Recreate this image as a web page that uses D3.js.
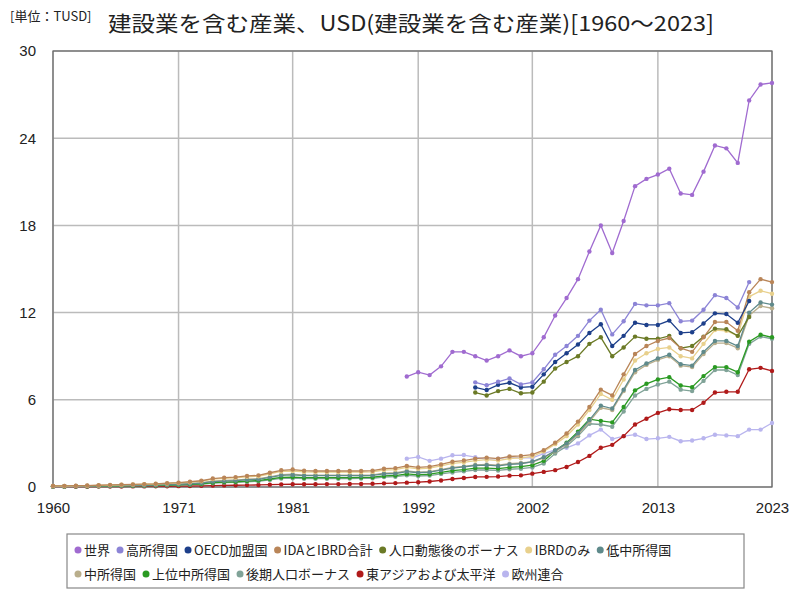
<!DOCTYPE html>
<html><head><meta charset="utf-8">
<script src="https://cdn.jsdelivr.net/npm/d3@7"></script>
<style>body{margin:0;background:#fff}svg{font-family:"Noto Sans CJK JP","Noto Sans",sans-serif}</style>
</head><body><svg id="chart" width="800" height="600"></svg>
<script>
// years 1960..2023, null = no data
var startYear = 1960;
var tickYears = [1960, 1971, 1981, 1992, 2002, 2013, 2023];
var yTicks = [0, 6, 12, 18, 24, 30];

var world = [7.6,7.9,7.7,8.3,9.3,9.3,9.0,8.7,9.0,9.4,9.0,9.2,10.3,11.8,13.0,14.3,16.2,18.0,16.1,18.3,20.7,21.2,21.5,21.9,20.2,20.1,21.7,23.5,23.3,22.3,26.6,27.7,27.8]; // from 1991
var highIncome = [7.2,7.0,7.24,7.47,7.06,7.2,8.1,9.1,9.7,10.4,11.45,12.2,10.5,11.4,12.6,12.5,12.5,12.65,11.4,11.45,12.2,13.2,13.0,12.35,14.1]; // 1997-2021
var oecd = [6.85,6.67,7.03,7.17,6.85,6.9,7.75,8.6,9.2,9.8,10.6,11.2,9.7,10.4,11.3,11.15,11.15,11.45,10.6,10.65,11.25,11.95,11.9,11.3,12.8]; // 1997-2021
var postDemo = [6.5,6.3,6.6,6.75,6.45,6.5,7.25,8.15,8.6,9.0,9.85,10.3,9.0,9.6,10.35,10.2,10.2,10.4,9.55,9.7,10.35,10.9,10.85,10.4,11.7]; // 1997-2021
var idaIbrd = [0.08,0.08,0.09,0.1,0.12,0.14,0.16,0.18,0.2,0.22,0.26,0.3,0.36,0.43,0.58,0.64,0.68,0.76,0.8,0.98,1.15,1.2,1.12,1.1,1.1,1.1,1.1,1.1,1.12,1.26,1.3,1.45,1.35,1.4,1.55,1.74,1.82,1.95,2.02,1.95,2.1,2.14,
  2.23,2.53,3.05,3.68,4.5,5.5,6.7,6.3,7.75,9.15,9.7,10.05,10.25,9.55,9.3,10.3,11.35,11.35,10.75,13.4,14.3,14.1];
var ibrdOnly = [0.07,0.07,0.08,0.09,0.11,0.13,0.15,0.17,0.19,0.21,0.24,0.28,0.33,0.4,0.54,0.6,0.63,0.7,0.74,0.9,1.07,1.1,1.04,1.02,1.02,1.02,1.02,1.02,1.04,1.17,1.2,1.35,1.25,1.3,1.45,1.62,1.7,1.82,1.88,1.82,1.96,2.0,
  2.1,2.45,2.95,3.5,4.3,5.3,6.4,6.0,7.4,8.7,9.2,9.5,9.6,9.0,8.85,9.85,10.8,10.75,10.4,13.1,13.5,13.3];
var lowerMid = [0.05,0.05,0.06,0.07,0.08,0.09,0.1,0.11,0.12,0.14,0.16,0.19,0.22,0.27,0.37,0.41,0.44,0.5,0.53,0.66,0.8,0.83,0.78,0.78,0.78,0.78,0.78,0.78,0.8,0.9,0.93,1.06,0.98,1.02,1.16,1.3,1.38,1.48,1.5,1.45,1.55,1.6,
  1.75,2.05,2.5,3.0,3.7,4.6,5.6,5.4,6.7,8.05,8.5,8.85,9.1,8.45,8.35,9.3,10.05,10.05,9.7,12.0,12.7,12.55];
var middle = [0.06,0.06,0.07,0.08,0.09,0.1,0.12,0.13,0.14,0.16,0.18,0.21,0.25,0.3,0.41,0.45,0.48,0.54,0.57,0.7,0.85,0.88,0.82,0.82,0.82,0.82,0.82,0.82,0.84,0.95,0.98,1.1,1.02,1.06,1.2,1.35,1.42,1.52,1.55,1.5,1.6,1.65,
  1.72,2.0,2.45,2.95,3.6,4.5,5.45,5.3,6.6,7.9,8.4,8.75,9.0,8.35,8.25,9.15,9.9,9.9,9.55,11.8,12.45,12.3];
var upperMid = [0.04,0.04,0.05,0.05,0.06,0.07,0.08,0.09,0.1,0.11,0.13,0.15,0.18,0.22,0.3,0.34,0.36,0.41,0.44,0.55,0.66,0.68,0.64,0.64,0.64,0.64,0.65,0.66,0.67,0.76,0.79,0.9,0.84,0.88,1.0,1.12,1.2,1.3,1.3,1.27,1.35,1.4,
  1.5,1.8,2.5,3.05,3.8,4.67,4.55,4.45,5.5,6.65,7.1,7.4,7.56,6.98,6.87,7.63,8.25,8.25,7.9,10.0,10.48,10.3];
var lateDemo = [0.03,0.03,0.04,0.04,0.05,0.06,0.07,0.08,0.09,0.1,0.11,0.13,0.16,0.19,0.26,0.3,0.32,0.36,0.39,0.49,0.59,0.61,0.57,0.57,0.57,0.57,0.58,0.59,0.6,0.68,0.71,0.8,0.75,0.79,0.9,1.0,1.08,1.17,1.17,1.14,1.22,1.26,
  1.35,1.62,2.3,2.8,3.5,4.35,4.3,4.15,5.2,6.3,6.75,7.05,7.25,6.7,6.6,7.3,8.05,8.05,7.7,9.85,10.35,10.2];
var eastAsia = [0.02,0.02,0.02,0.02,0.03,0.03,0.03,0.04,0.04,0.05,0.05,0.06,0.07,0.08,0.1,0.11,0.12,0.13,0.14,0.16,0.18,0.19,0.19,0.19,0.2,0.2,0.21,0.21,0.22,0.25,0.27,0.3,0.33,0.38,0.45,0.55,0.62,0.69,0.7,0.72,0.78,0.8,
  0.92,1.04,1.16,1.38,1.72,2.14,2.7,2.9,3.5,4.3,4.7,5.1,5.35,5.3,5.3,5.8,6.5,6.55,6.55,8.1,8.2,7.99];
var eu = [1.95,2.07,1.8,1.95,2.18,2.2,2.05,1.9,1.95,2.05,2.0,2.0,2.3,2.55,2.7,3.0,3.55,3.95,3.3,3.5,3.6,3.3,3.35,3.45,3.15,3.2,3.35,3.6,3.55,3.5,3.95,3.95,4.4]; // from 1991

var seriesDefs = [
  {name: "世界", color: "#a06bd0", data: world, from: 1991},
  {name: "高所得国", color: "#8c84d6", data: highIncome, from: 1997},
  {name: "OECD加盟国", color: "#1d3f8a", data: oecd, from: 1997},
  {name: "IDAとIBRD合計", color: "#b98558", data: idaIbrd, from: 1960},
  {name: "人口動態後のボーナス", color: "#6b7a26", data: postDemo, from: 1997},
  {name: "IBRDのみ", color: "#e8d08c", data: ibrdOnly, from: 1960},
  {name: "低中所得国", color: "#5f8a8b", data: lowerMid, from: 1960},
  {name: "中所得国", color: "#b9ae8c", data: middle, from: 1960},
  {name: "上位中所得国", color: "#2a9a22", data: upperMid, from: 1960},
  {name: "後期人口ボーナス", color: "#80a398", data: lateDemo, from: 1960},
  {name: "東アジアおよび太平洋", color: "#b01a1a", data: eastAsia, from: 1960},
  {name: "欧州連合", color: "#b9b5ee", data: eu, from: 1991}
];

var svg = d3.select("#chart");
var m = {left: 53, right: 772, top: 51, bottom: 487};
var x = d3.scaleLinear().domain([1960, 2023]).range([m.left, m.right]);
var y = d3.scaleLinear().domain([0, 30]).range([m.bottom, m.top]);

// grid
svg.append("g").selectAll("line").data(tickYears).join("line")
  .attr("x1", d => x(d)).attr("x2", d => x(d)).attr("y1", m.top).attr("y2", m.bottom)
  .attr("stroke", "#bbb").attr("stroke-width", 1.5);
svg.append("g").selectAll("line").data(yTicks).join("line")
  .attr("x1", m.left).attr("x2", m.right).attr("y1", d => y(d)).attr("y2", d => y(d))
  .attr("stroke", "#bbb").attr("stroke-width", 1.5);
svg.append("rect").attr("x", m.left).attr("y", m.top).attr("width", m.right - m.left).attr("height", m.bottom - m.top)
  .attr("fill", "none").attr("stroke", "#666").attr("stroke-width", 1.2);

// axes
var xAxis = svg.append("g").attr("transform", "translate(0," + (m.bottom + 12) + ")")
  .call(d3.axisBottom(x).tickValues(tickYears).tickFormat(d3.format("d")).tickSize(0));
xAxis.select(".domain").remove();
xAxis.selectAll("text").attr("font-size", 15).attr("fill", "#222").attr("font-family", "'Liberation Sans',sans-serif");
var yAxis = svg.append("g").attr("transform", "translate(" + (m.left - 14) + ",0)")
  .call(d3.axisLeft(y).tickValues(yTicks).tickSize(0));
yAxis.select(".domain").remove();
yAxis.selectAll("text").attr("font-size", 15).attr("fill", "#222").attr("font-family", "'Liberation Sans',sans-serif");

// lines
var line = d3.line().x(d => x(d.year)).y(d => y(d.v));
seriesDefs.slice().reverse().forEach(function (s) {
  var pts = s.data.map((v, i) => ({year: s.from + i, v: v}));
  svg.append("path").datum(pts).attr("d", line).attr("fill", "none")
    .attr("stroke", s.color).attr("stroke-width", 1.3);
  svg.append("g").selectAll("circle").data(pts).join("circle")
    .attr("cx", d => x(d.year)).attr("cy", d => y(d.v)).attr("r", 2.2).attr("fill", s.color);
});

// titles
svg.append("text").attr("x", 411).attr("y", 31).attr("text-anchor", "middle")
  .attr("font-size", 21).attr("fill", "#222").attr("textLength", 606).attr("lengthAdjust", "spacingAndGlyphs")
  .text("建設業を含む産業、USD(建設業を含む産業)[1960～2023]");
svg.append("text").attr("x", 10).attr("y", 21).attr("font-size", 13).attr("fill", "#222").text("[単位：TUSD]");

// legend
var lg = svg.append("g");
lg.append("rect").attr("x", 67).attr("y", 534).attr("width", 677).attr("height", 54)
  .attr("fill", "#fff").attr("stroke", "#888").attr("stroke-width", 1.2);
var rows = [seriesDefs.slice(0, 7), seriesDefs.slice(7)];
rows.forEach(function (row, ri) {
  var cx = 78, cy = 550 + ri * 24;
  row.forEach(function (s) {
    lg.append("circle").attr("cx", cx).attr("cy", cy).attr("r", 3.5).attr("fill", s.color);
    var t = lg.append("text").attr("x", cx + 6).attr("y", cy + 5).attr("font-size", 13).attr("fill", "#222").text(s.name);
    cx += t.node().getComputedTextLength() + 16;
  });
});
</script></body></html>
